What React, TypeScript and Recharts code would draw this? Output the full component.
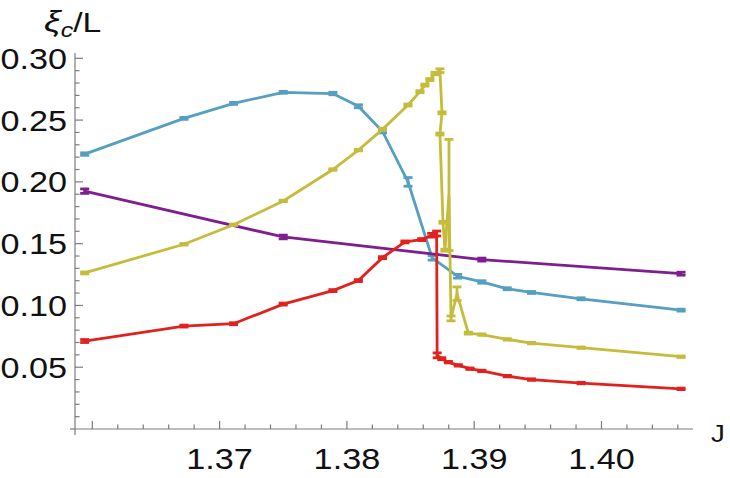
import React from 'react';
import { LineChart, Line, XAxis, YAxis, ErrorBar } from 'recharts';

// ---- data (J, xi_c/L, error) ----
const blueJ = [1.3594, 1.3672, 1.3711, 1.375, 1.3789, 1.3809, 1.3828, 1.3848, 1.3867, 1.3887, 1.3906, 1.3926, 1.3945, 1.3984, 1.40625];
const blueV = [0.2225, 0.2514, 0.2635, 0.2725, 0.2715, 0.2612, 0.2408, 0.2, 0.1385, 0.1236, 0.119, 0.1135, 0.1105, 0.1054, 0.0962];
const blueE = [0.001, 0.0008, 0.0008, 0.0008, 0.001, 0.0012, 0.0012, 0.0035, 0.0018, 0.0015, 0.001, 0.0008, 0.0008, 0.0008, 0.0008];

const purpleJ = [1.3594, 1.375, 1.3906, 1.40625];
const purpleV = [0.1925, 0.1554, 0.1371, 0.1257];
const purpleE = [0.0018, 0.0015, 0.0012, 0.0012];

const yellowJ = [1.3594, 1.3672, 1.3711, 1.375, 1.3789, 1.3809, 1.3828, 1.3848, 1.38574, 1.38613, 1.38652, 1.38692, 1.38731, 1.38747, 1.38731, 1.38755, 1.3877, 1.38802, 1.38818, 1.38865, 1.38954, 1.3906, 1.3926, 1.3945, 1.3984, 1.40625];
const yellowV = [0.1263, 0.1495, 0.1653, 0.1846, 0.21, 0.2257, 0.2425, 0.2622, 0.273, 0.2783, 0.2828, 0.2877, 0.29, 0.2559, 0.2387, 0.1673, 0.1447, 0.1894, 0.0895, 0.1095, 0.0776, 0.0764, 0.0725, 0.0695, 0.0658, 0.0585];
const yellowE = [0.0008, 0.0006, 0.0006, 0.0006, 0.0006, 0.0006, 0.0008, 0.0008, 0.0008, 0.0008, 0.0008, 0.001, 0.0015, 0.0008, 0.0008, 0.0008, 0.0008, 0.045, 0.002, 0.0055, 0.0008, 0.0006, 0.0006, 0.0006, 0.0006, 0.0006];

const redJ = [1.3594, 1.3672, 1.3711, 1.375, 1.3789, 1.3809, 1.3828, 1.38456, 1.38588, 1.38666, 1.38705, 1.38709, 1.38745, 1.38797, 1.38875, 1.38967, 1.3906, 1.3926, 1.3945, 1.3984, 1.40625];
const redV = [0.0712, 0.0833, 0.0852, 0.1011, 0.112, 0.1201, 0.1387, 0.1514, 0.1533, 0.1568, 0.1582, 0.0596, 0.0569, 0.0541, 0.0515, 0.0488, 0.047, 0.0428, 0.04, 0.0372, 0.0325];
const redE = [0.0012, 0.0008, 0.0008, 0.0008, 0.0008, 0.0008, 0.0008, 0.0008, 0.0008, 0.0015, 0.002, 0.002, 0.0008, 0.0006, 0.0006, 0.0006, 0.0006, 0.0006, 0.0006, 0.0006, 0.0006];

// ---- ticks ----
const xMajorTicks = [1.36, 1.37, 1.38, 1.39, 1.4];
const xTickLabels = ['', '1.37', '1.38', '1.39', '1.40'];
const xMinorTicks = [1.362, 1.364, 1.366, 1.368, 1.372, 1.374, 1.376, 1.378, 1.382, 1.384, 1.386, 1.388, 1.392, 1.394, 1.396, 1.398, 1.402, 1.404, 1.406];
const yMajorTicks = [0.05, 0.1, 0.15, 0.2, 0.25, 0.3];
const yTickLabels = ['0.05', '0.10', '0.15', '0.20', '0.25', '0.30'];
const yMinorTicks = [0.01, 0.02, 0.03, 0.04, 0.06, 0.07, 0.08, 0.09, 0.11, 0.12, 0.13, 0.14, 0.16, 0.17, 0.18, 0.19, 0.21, 0.22, 0.23, 0.24, 0.26, 0.27, 0.28, 0.29];

const build = (J: number[], V: number[], E: number[]) => J.map((j, i) => ({ J: j, v: V[i], err: E[i] }));
const blueData = build(blueJ, blueV, blueE);
const purpleData = build(purpleJ, purpleV, purpleE);
const yellowData = build(yellowJ, yellowV, yellowE);
const redData = build(redJ, redV, redE);

const BLUE = '#559FC0';
const PURPLE = '#7F1E8E';
const YELLOW = '#C6BC3C';
const RED = '#E0221F';
const AXIS = '#7c7c7c';
const FONT = '"Liberation Sans", Arial, sans-serif';
const SX = 1.14;

const allX = [...xMajorTicks, ...xMinorTicks].sort((a, b) => a - b);
const allY = [...yMajorTicks, ...yMinorTicks].sort((a, b) => a - b);

const XTick = (props: any) => {
  const { x, y, payload } = props;
  const idx = xMajorTicks.findIndex((t) => Math.abs(t - payload.value) < 1e-6);
  const major = idx >= 0;
  return (
    <g>
      <line x1={x} x2={x} y1={y} y2={y - (major ? 8 : 4.5)} stroke={AXIS} strokeWidth={1.2} />
      {major && xTickLabels[idx] ? (
        <text
          transform={`translate(${x},${y + 40}) scale(${SX},1)`}
          x={0}
          y={0}
          textAnchor="middle"
          fontSize={30}
          fill="#111"
          fontFamily={FONT}
        >
          {xTickLabels[idx]}
        </text>
      ) : null}
    </g>
  );
};

const YTick = (props: any) => {
  const { x, y, payload } = props;
  const idx = yMajorTicks.findIndex((t) => Math.abs(t - payload.value) < 1e-6);
  const major = idx >= 0;
  return (
    <g>
      <line x1={x} x2={x + (major ? 8 : 4.5)} y1={y} y2={y} stroke={AXIS} strokeWidth={1.2} />
      {major ? (
        <text
          transform={`translate(${x - 8},${y + 10.5}) scale(${SX},1)`}
          x={0}
          y={0}
          textAnchor="end"
          fontSize={30}
          fill="#111"
          fontFamily={FONT}
        >
          {yTickLabels[idx]}
        </text>
      ) : null}
    </g>
  );
};

const series = [
  { data: blueData, color: BLUE, key: 'blue' },
  { data: purpleData, color: PURPLE, key: 'purple' },
  { data: yellowData, color: YELLOW, key: 'yellow' },
  { data: redData, color: RED, key: 'red' },
];

export default function App() {
  return (
    <div style={{ position: 'absolute', left: 0, top: 0, width: 730, height: 478, background: '#fff' }}>
      <LineChart width={730} height={478} margin={{ top: 53, right: 37, bottom: 0, left: 0 }}>
        <XAxis
          dataKey="J"
          type="number"
          domain={[1.35864, 1.40719]}
          allowDataOverflow
          ticks={allX}
          interval={0}
          height={49}
          tickSize={0}
          tickMargin={0}
          tick={(p: any) => <XTick {...p} />}
          axisLine={{ stroke: AXIS, strokeWidth: 1.2 }}
        />
        <YAxis
          type="number"
          domain={[0, 0.3043]}
          allowDataOverflow
          ticks={allY}
          interval={0}
          width={75}
          tickSize={0}
          tickMargin={0}
          tick={(p: any) => <YTick {...p} />}
          axisLine={{ stroke: AXIS, strokeWidth: 1.2 }}
        />
        {series.map((s) => (
          <Line
            key={s.key}
            data={s.data}
            dataKey="v"
            type="linear"
            stroke={s.color}
            strokeWidth={2.8}
            dot={false}
            activeDot={false}
            isAnimationActive={false}
          >
            <ErrorBar dataKey="err" direction="y" width={4.5} strokeWidth={2.8} stroke={s.color} isAnimationActive={false} />
          </Line>
        ))}
      </LineChart>
      <svg width={730} height={478} style={{ position: 'absolute', left: 0, top: 0, pointerEvents: 'none' }}>
        <line x1={75} x2={75} y1={429} y2={435} stroke={AXIS} strokeWidth={1.2} />
        <line x1={70} x2={75} y1={429} y2={429} stroke={AXIS} strokeWidth={1.2} />
        <text transform="translate(44,32) scale(1.25,1)" x={0} y={0} fontSize={27} fill="#111" fontFamily={FONT}>
          <tspan fontStyle="italic" fontSize={30}>ξ</tspan>
          <tspan fontStyle="italic" fontSize={20} dy={5}>c</tspan>
          <tspan dy={-5}>/L</tspan>
        </text>
        <text transform="translate(711,442) scale(1.15,1)" x={0} y={0} fontSize={24} fill="#111" fontFamily={FONT}>J</text>
      </svg>
    </div>
  );
}
